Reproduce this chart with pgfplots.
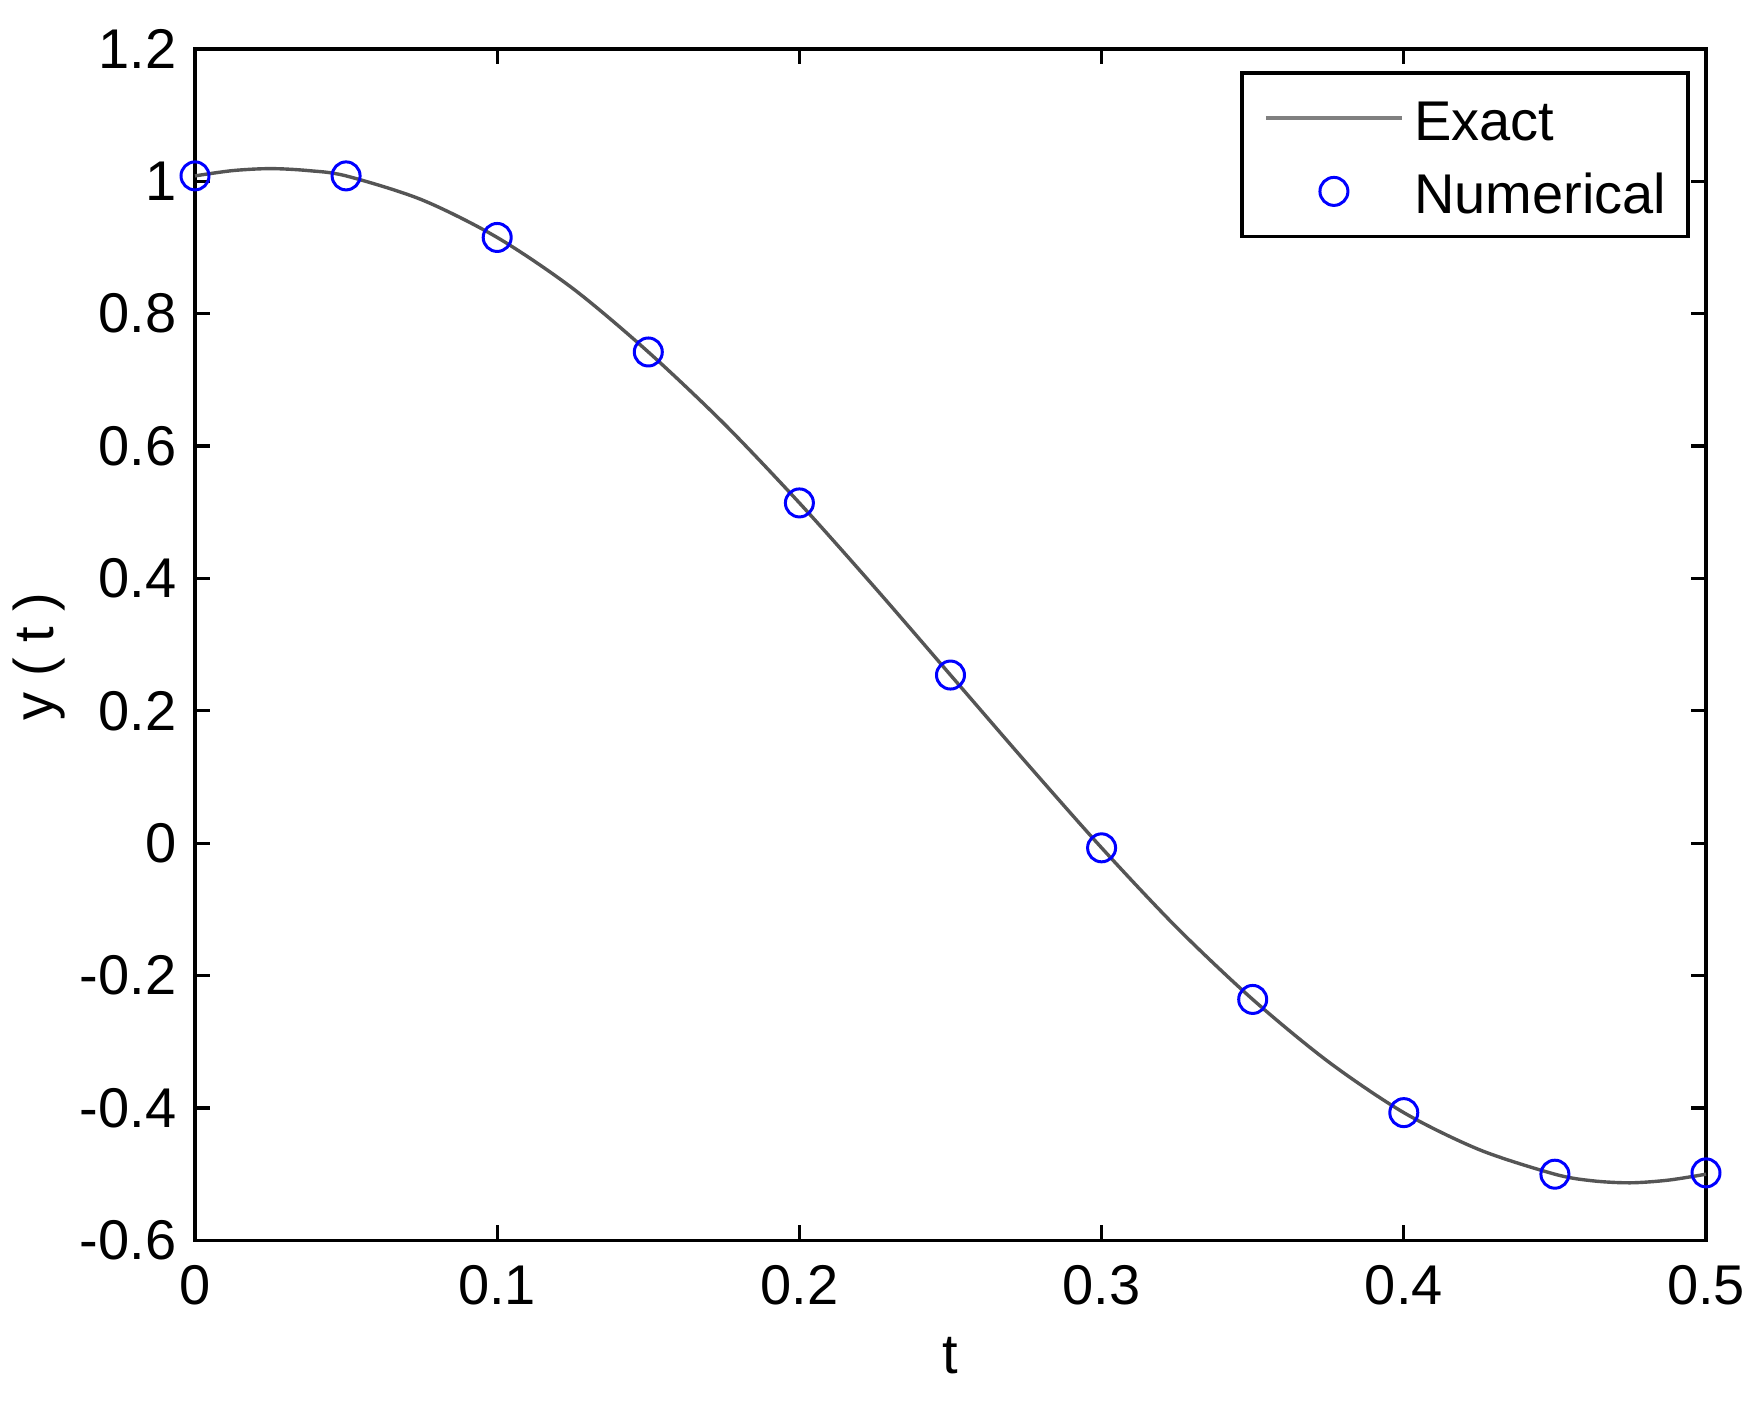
\documentclass[border=0pt]{standalone}
\usepackage{pgfplots}
\pgfplotsset{compat=1.18}
\usepackage{fontspec}
\setmainfont{Liberation Sans}
\definecolor{curvegray}{RGB}{85,85,85}
\pgfplotsset{
  exactlegend/.style={legend image code/.code={\draw[##1, line width=1.1pt, color=gray] (0pt,0pt) -- (34pt,0pt);}},
  numlegend/.style={legend image code/.code={\draw[mark repeat=2, mark phase=2, ##1] plot coordinates {(0pt,0pt) (17pt,0pt) (34pt,0pt)};}},
}
\begin{document}
\begin{tikzpicture}
\useasboundingbox (0,0) rectangle (439.25pt,351pt);
\begin{axis}[
  at={(48.75pt,40.9pt)}, anchor=south west,
  scale only axis, width=377.75pt, height=297.9pt,
  xmin=0, xmax=0.5, ymin=-0.6, ymax=1.2,
  xtick={0,0.1,0.2,0.3,0.4,0.5},
  ytick={-0.6,-0.4,-0.2,0,0.2,0.4,0.6,0.8,1,1.2},
  tick align=inside, tick pos=both,
  major tick length=3.75pt,
  axis line style={line width=0.9pt},
  every tick/.style={line width=0.8pt, black},
  /pgf/number format/assume math mode=true,
  /pgf/number format/fixed,
  tick label style={font=\fontsize{14}{17}\selectfont},
  xticklabel style={inner sep=0pt, anchor=north, yshift=-6pt},
  yticklabel style={inner sep=0pt, anchor=east, xshift=-4.5pt},
  xlabel={t}, ylabel={y ( t )},
  label style={font=\fontsize{14}{17}\selectfont},
  xlabel style={at={(axis description cs:0.5,0)}, anchor=north, inner sep=0pt, yshift=-24pt},
  ylabel style={at={(axis description cs:-0.103,0.49)}, anchor=center, inner sep=0pt},
  clip=false,
  legend cell align=left,
  legend style={at={(1,1)}, anchor=north east, xshift=-4pt, yshift=-5.6pt,
    draw=black, line width=0.9pt, fill=white,
    font=\fontsize{14}{17}\selectfont,
    inner xsep=5.5pt, inner ysep=3.8pt, row sep=3.3pt, column sep=2.5pt,
    nodes={inner sep=0pt, text height=13pt, text depth=2pt}},
]
\addplot[color=curvegray, line width=0.85pt, smooth, exactlegend]
coordinates {
(0,1.008) (0.0125,1.016) (0.025,1.019) (0.0375,1.016) (0.05,1.008)
(0.075,0.972) (0.1,0.915) (0.125,0.838) (0.15,0.742) (0.175,0.634)
(0.2,0.514) (0.225,0.386) (0.25,0.254) (0.275,0.122) (0.3,-0.007)
(0.325,-0.128) (0.35,-0.236) (0.375,-0.330) (0.4,-0.407) (0.425,-0.463)
(0.45,-0.500) (0.4625,-0.510) (0.475,-0.513) (0.4875,-0.509) (0.5,-0.500)
};
\addlegendentry{Exact}
\addplot[only marks, mark=o, color=blue, mark size=3.5pt, mark options={line width=0.75pt}, numlegend]
coordinates {
(0,1.008) (0.05,1.008) (0.1,0.915) (0.15,0.742) (0.2,0.514) (0.25,0.254)
(0.3,-0.007) (0.35,-0.236) (0.4,-0.407) (0.45,-0.500) (0.5,-0.498)
};
\addlegendentry{Numerical}
\end{axis}
\end{tikzpicture}
\end{document}
